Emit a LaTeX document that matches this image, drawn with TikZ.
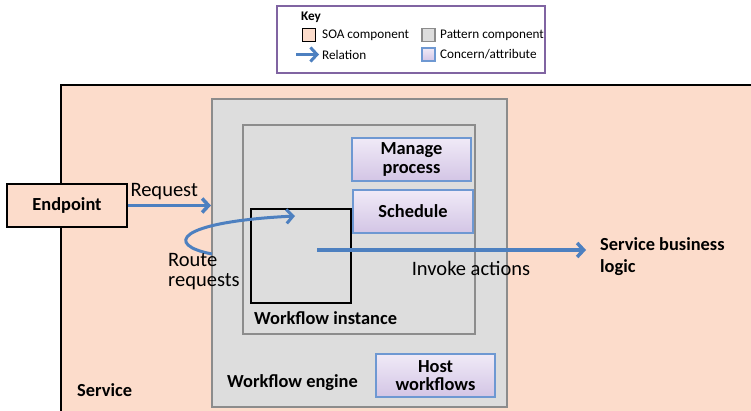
\documentclass[tikz,border=0pt]{standalone}
\usepackage{fontspec}
\setmainfont{Carlito}
\usepackage{tikz}
\usetikzlibrary{arrows.meta}

\definecolor{soapink}{HTML}{FCDCCB}
\definecolor{patfill}{HTML}{DDDDDD}
\definecolor{patline}{HTML}{8C8C8C}
\definecolor{concline}{HTML}{6E98D2}
\definecolor{conctop}{HTML}{F0EAF7}
\definecolor{concbot}{HTML}{D3C5E5}
\definecolor{relblue}{HTML}{4D80C0}
\definecolor{keypurple}{HTML}{8064A2}

\newcommand\lblfont{\fontsize{20.5}{20}\selectfont}
\newcommand\boxfont{\bfseries\fontsize{18.4}{18.5}\selectfont}
\newcommand\keyfont{\fontsize{13.2}{14}\selectfont}

\begin{document}
\begin{tikzpicture}[x=1pt,y=-1pt,
    soa/.style={draw=black,fill=soapink,line width=1.5pt,inner sep=0pt},
    pattern/.style={draw=patline,fill=patfill,line width=2pt,inner sep=0pt},
    concern/.style={draw=concline,line width=1.5pt,top color=conctop,
        bottom color=concbot,align=center,font=\boxfont,inner sep=0pt},
    relation/.style={draw=relblue,line width=3.5pt,
        -{Straight Barb[length=6.5pt,width=14pt]}},
    boxlabel/.style={font=\boxfont,inner sep=0pt,anchor=west},
    keytext/.style={font=\keyfont,inner sep=0pt,anchor=west},
    ]
    \useasboundingbox (0,0) rectangle (751,411);
    % Service
    \node[soa,minimum width=709pt,minimum height=345pt] (service) at (415.5,257.5) {};
    \node[boxlabel] (servicelbl) at (77,390) {Service};
    % Key
    \node[draw=keypurple,line width=2.5pt,fill=white,
          minimum width=268pt,minimum height=67pt] (key) at (411,39.5) {};
    \node[keytext,font=\keyfont\bfseries] (keylbl) at (301,17) {Key};
    \node[soa,line width=1.2pt,minimum size=13pt] (keysoa) at (309,35) {};
    \node[keytext] (keysoatxt) at (322,35) {SOA component};
    \node[pattern,line width=1.5pt,minimum size=13pt] (keypat) at (428.5,35) {};
    \node[keytext] (keypattxt) at (440,35) {Pattern component};
    \coordinate (keyrel) at (296,54.5);
    \node[keytext] (keyreltxt) at (322,54.5) {Relation};
    \draw[relation,line width=3pt,shorten >=3pt] (keyrel) -- (keyreltxt.west);
    \node[concern,line width=1.2pt,minimum size=13pt] (keycon) at (428.5,54.5) {};
    \node[keytext] (keycontxt) at (440,54.5) {Concern/attribute};
    % Endpoint
    \node[soa,minimum width=120pt,minimum height=43pt,font=\boxfont] (endpoint) at (67,205.5) {Endpoint};
    % Workflow engine
    \node[pattern,minimum width=295pt,minimum height=308pt] (engine) at (359.5,253) {};
    \node[boxlabel] (enginelbl) at (227,383) {Workflow engine};
    \node[pattern,minimum width=232pt,minimum height=209pt] (instbox) at (359,229.5) {};
    \node[boxlabel] (instlbl) at (254,318) {Workflow instance};
    \node[draw=black,line width=1.5pt,minimum width=100pt,minimum height=94pt] (wfinst) at (301,256) {};
    % Concerns
    \node[concern,minimum width=119pt,minimum height=43pt] (manage) at (411.5,159.5) {Manage\\process};
    \node[concern,minimum width=120pt,minimum height=43pt] (schedule) at (413,211.5) {Schedule};
    \node[concern,minimum width=119pt,minimum height=43pt] (host) at (435.5,375.5) {Host\\workflows};
    % Relations
    \draw[relation] (endpoint.east) -- (endpoint.east -| engine.west)
        node[pos=0,anchor=south west,font=\lblfont,inner sep=1pt,yshift=3pt] (reqlbl) {Request};
    \coordinate (routein) at (212,254);
    \coordinate (routeout) at (295,216);
    \draw[relation,line width=3pt] (routein) .. controls (165,245) and (175,222) .. (routeout);
    \node[font=\lblfont,align=left,anchor=west,inner sep=0pt] (routelbl) at (168,272) {Route\\requests};
    \node[boxlabel,align=left,font={\bfseries\fontsize{18.4}{22}\selectfont}] (logic) at (600,257) {Service business\\logic};
    \coordinate (invoke) at (317,250);
    \draw[relation,shorten >=14pt] (invoke) -- (invoke -| logic.west);
    \node[font=\lblfont,inner sep=0pt] (invlbl) at (471,268) {Invoke actions};
\end{tikzpicture}
\end{document}
